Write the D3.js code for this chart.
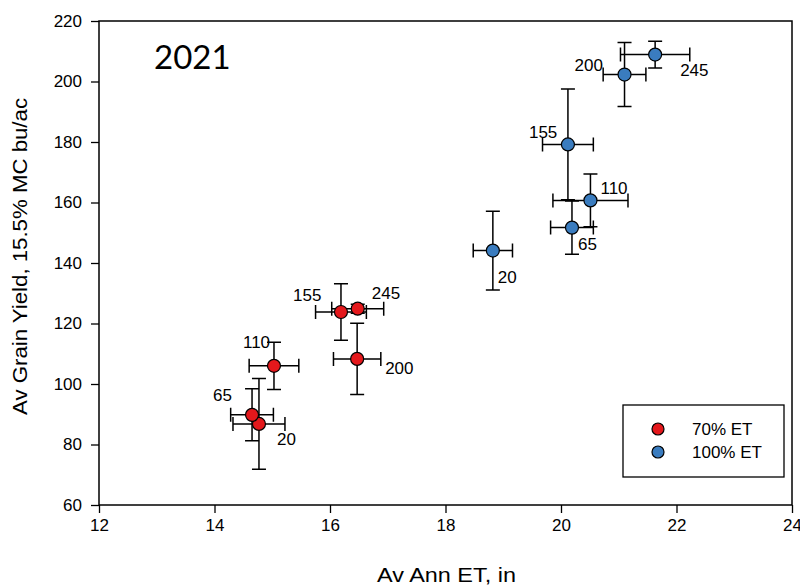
<!DOCTYPE html>
<html>
<head>
<meta charset="utf-8">
<script src="https://cdn.jsdelivr.net/npm/d3@7"></script>
<style>
	body { margin: 0; background: #fff; }
	svg text { font-family: "Liberation Sans", Arial, sans-serif; fill: #000; }
</style>
</head>
<body>
<svg id="chart" width="800" height="586"></svg>
<script>
// nitrogen rates (labels at each point)
var	nRates		= ["20", "65", "110", "155", "200", "245"],
	seriesNames	= ["70% ET", "100% ET"],
	xTicks		= [12, 14, 16, 18, 20, 22, 24],
	yTicks		= [60, 80, 100, 120, 140, 160, 180, 200, 220];

// 70% ET
var	et70		= [14.77, 14.65, 15.03, 16.19, 16.47, 16.48],
	yield70		= [86.8, 89.8, 106.0, 123.8, 108.3, 124.9],
	etErr70		= [0.45, 0.37, 0.43, 0.44, 0.41, 0.45],
	yieldErr70	= [15.0, 8.6, 7.8, 9.3, 11.8, 1.5];

// 100% ET
var	et100		= [18.82, 20.19, 20.51, 20.12, 21.10, 21.63],
	yield100	= [144.1, 151.7, 160.7, 179.2, 202.3, 208.9],
	etErr100	= [0.34, 0.37, 0.65, 0.44, 0.37, 0.60],
	yieldErr100	= [13.0, 8.8, 8.7, 18.3, 10.6, 4.4];

var	colors	= ["#e4181c", "#3a7cbf"],
	// label offsets (px) from each point: [dx, dy baseline]
	labelPos = [
		[[18, 21], [-39, -14], [-31, -18], [-48, -11], [28, 15], [14, -10]],
		[[5, 32],  [6, 22],    [10, -6],   [-39, -6],  [-50, -4], [25, 21]]
	];

function makeSeries(xs, ys, xe, ye) {
	return xs.map(function(x, i) { return {n: nRates[i], x: x, y: ys[i], xe: xe[i], ye: ye[i]}; });
}
var series = [makeSeries(et70, yield70, etErr70, yieldErr70), makeSeries(et100, yield100, etErr100, yieldErr100)];

var	svg	= d3.select("#chart"),
	L = 99, R = 792, T = 21, B = 505,
	x	= d3.scaleLinear().domain([12, 24]).range([L, R]),
	y	= d3.scaleLinear().domain([60, 220]).range([B, T]),
	cap	= 7;

// axes
svg.append("g").attr("transform", "translate(0," + B + ")")
	.call(d3.axisBottom(x).tickValues(xTicks).tickSize(8).tickPadding(6))
	.call(function(g) {
		g.select(".domain").remove();
		g.selectAll("line").attr("stroke", "#000").attr("stroke-width", 1.3);
		g.selectAll("text").style("font-size", "17px");
	});
svg.append("g").attr("transform", "translate(" + L + ",0)")
	.call(d3.axisLeft(y).tickValues(yTicks).tickSize(8).tickPadding(9))
	.call(function(g) {
		g.select(".domain").remove();
		g.selectAll("line").attr("stroke", "#000").attr("stroke-width", 1.3);
		g.selectAll("text").style("font-size", "17px");
	});
svg.append("rect").attr("x", L).attr("y", T).attr("width", R - L).attr("height", B - T)
	.attr("fill", "none").attr("stroke", "#000").attr("stroke-width", 1.5);

// titles (stretched a bit, like the original renderer)
svg.append("text").attr("x", 377).attr("y", 582)
	.attr("textLength", 139).attr("lengthAdjust", "spacingAndGlyphs")
	.style("font-size", "19.5px").text("Av Ann ET, in");
svg.append("text").attr("transform", "translate(27,415) rotate(-90)")
	.attr("textLength", 317).attr("lengthAdjust", "spacingAndGlyphs")
	.style("font-size", "19.5px").text("Av Grain Yield, 15.5% MC bu/ac");
svg.append("text").attr("x", 154).attr("y", 69)
	.style("font-family", "Lato, 'Open Sans', sans-serif").style("font-size", "33px").text("2021");

// error bars
series.forEach(function(s) {
	var g = svg.append("g").attr("stroke", "#000").attr("stroke-width", 1.5).attr("fill", "none");
	s.forEach(function(d) {
		var cx = x(d.x), cy = y(d.y), y0 = y(d.y - d.ye), y1 = y(d.y + d.ye), x0 = x(d.x - d.xe), x1 = x(d.x + d.xe);
		g.append("path").attr("d",
			"M" + cx + "," + y0 + "V" + y1 +
			"M" + (cx - cap) + "," + y0 + "H" + (cx + cap) +
			"M" + (cx - cap) + "," + y1 + "H" + (cx + cap) +
			"M" + x0 + "," + cy + "H" + x1 +
			"M" + x0 + "," + (cy - cap) + "V" + (cy + cap) +
			"M" + x1 + "," + (cy - cap) + "V" + (cy + cap));
	});
});

// points and labels
series.forEach(function(s, si) {
	svg.append("g").selectAll("circle").data(s).enter().append("circle")
		.attr("cx", function(d) { return x(d.x); }).attr("cy", function(d) { return y(d.y); })
		.attr("r", 6.5).attr("fill", colors[si]).attr("stroke", "#000").attr("stroke-width", 1.2);
	svg.append("g").selectAll("text").data(s).enter().append("text")
		.attr("x", function(d, i) { return x(d.x) + labelPos[si][i][0]; })
		.attr("y", function(d, i) { return y(d.y) + labelPos[si][i][1]; })
		.style("font-size", "17px").text(function(d) { return d.n; });
});

// legend
var lg = svg.append("g");
lg.append("rect").attr("x", 623).attr("y", 405).attr("width", 161).attr("height", 72)
	.attr("fill", "#fff").attr("stroke", "#000").attr("stroke-width", 1.3);
seriesNames.forEach(function(name, i) {
	lg.append("circle").attr("cx", 658).attr("cy", 429 + i * 23).attr("r", 6)
		.attr("fill", colors[i]).attr("stroke", "#000").attr("stroke-width", 1.2);
	lg.append("text").attr("x", 692).attr("y", 435 + i * 23).style("font-size", "17px").text(name);
});
</script>
</body>
</html>
